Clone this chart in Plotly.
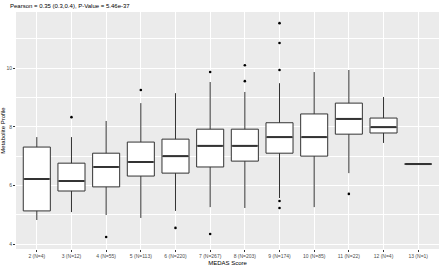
import plotly.graph_objects as go

categories = ["2 (N=4)", "3 (N=12)", "4 (N=55)", "5 (N=113)", "6 (N=220)", "7 (N=267)",
              "8 (N=203)", "9 (N=174)", "10 (N=85)", "11 (N=22)", "12 (N=4)", "13 (N=1)"]
lower_whisker = [4.82, 5.09, 4.99, 4.89, 5.13, 5.26, 5.23, 5.57, 5.26, 6.42, 7.45, 6.73]
q1_values     = [5.13, 5.81, 5.95, 6.32, 6.42, 6.63, 6.83, 7.10, 7.00, 7.75, 7.79, 6.73]
medians       = [6.22, 6.15, 6.63, 6.80, 7.00, 7.35, 7.35, 7.65, 7.65, 8.27, 7.99, 6.73]
q3_values     = [7.31, 6.76, 7.10, 7.48, 7.58, 7.92, 7.92, 8.14, 8.44, 8.81, 8.30, 6.73]
upper_whisker = [7.65, 7.65, 8.20, 8.81, 9.15, 9.53, 9.19, 9.49, 9.87, 9.94, 9.02, 6.73]

outlier_cats = ["3 (N=12)", "4 (N=55)", "5 (N=113)", "6 (N=220)", "7 (N=267)", "7 (N=267)",
                "8 (N=203)", "8 (N=203)", "9 (N=174)", "9 (N=174)", "9 (N=174)",
                "9 (N=174)", "9 (N=174)", "11 (N=22)"]
outlier_vals = [8.33, 4.24, 9.26, 4.55, 9.87, 4.34,
                10.10, 9.56, 11.54, 10.86, 9.94,
                5.47, 5.23, 5.71]

title_text = "Pearson = 0.35 (0.3,0.4), P-Value = 5.46e-37"

fig = go.Figure()
fig.add_trace(go.Box(
    x=categories, q1=q1_values, median=medians, q3=q3_values,
    lowerfence=lower_whisker, upperfence=upper_whisker,
    fillcolor="white", line=dict(color="#333333", width=1),
    width=0.78, whiskerwidth=0, showlegend=False, hoverinfo="skip",
))
fig.add_trace(go.Scatter(
    x=categories, y=medians, mode="markers",
    marker=dict(symbol="line-ew", size=18, line=dict(color="#333333", width=2)),
    showlegend=False, hoverinfo="skip",
))
fig.add_trace(go.Scatter(
    x=outlier_cats, y=outlier_vals, mode="markers",
    marker=dict(color="black", size=2.6),
    showlegend=False, hoverinfo="skip",
))

grid = "white"
fig.update_layout(
    width=440, height=268,
    margin=dict(l=16, r=1, t=12, b=19),
    paper_bgcolor="white", plot_bgcolor="#EBEBEB",
    font=dict(family="Liberation Sans, Arial, sans-serif", size=5, color="#4D4D4D"),
    title=dict(text=title_text, x=10/440, xanchor="left", y=1 - 6/268, yanchor="middle",
               font=dict(size=6, color="black")),
    xaxis=dict(
        type="category", categoryorder="array", categoryarray=categories,
        range=[-0.6, 11.6], showgrid=True, gridcolor=grid, gridwidth=1,
        ticks="outside", ticklen=2, tickcolor="#333333", tickwidth=0.7,
        tickfont=dict(size=5, color="#4D4D4D"), zeroline=False, automargin=False,
        title=dict(text="MEDAS Score", font=dict(size=6, color="black"), standoff=2),
    ),
    yaxis=dict(
        range=[3.83, 11.92], tickvals=[4, 6, 8, 10],
        showgrid=True, gridcolor=grid, gridwidth=1,
        minor=dict(tickvals=[5, 7, 9, 11], showgrid=True, gridcolor=grid, gridwidth=0.5, ticklen=0),
        ticks="outside", ticklen=2, tickcolor="#333333", tickwidth=0.7,
        tickfont=dict(size=5, color="#4D4D4D"), zeroline=False, automargin=False,
        title=dict(text="Metabolite Profile", font=dict(size=6, color="black"), standoff=3),
    ),
)
fig.write_html("out.html", config={"displayModeBar": False},
               post_script="document.body.style.margin='0';")
